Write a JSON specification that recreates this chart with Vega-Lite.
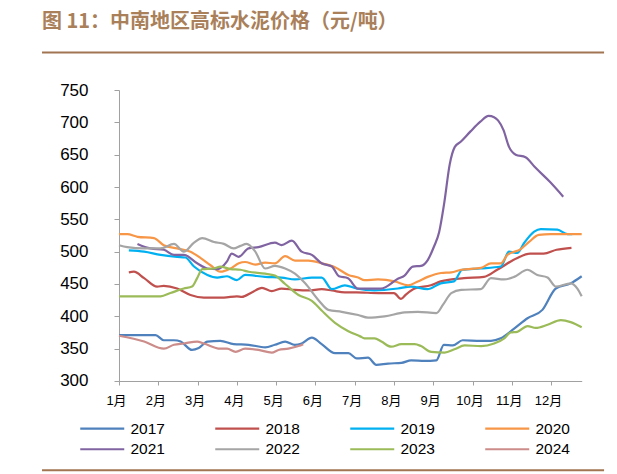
{
  "$schema": "https://vega.github.io/schema/vega-lite/v6.json",
  "width": 462.7,
  "height": 291,
  "autosize": {"type": "none"},
  "padding": {"left": 119, "top": 90, "right": 35, "bottom": 93},
  "background": "white",
  "config": {
    "view": {"stroke": null},
    "font": "Liberation Sans",
    "legend": {"padding": 0}
  },
  "title": {
    "text": "图 11：中南地区高标水泥价格（元/吨）",
    "anchor": "start",
    "frame": "group",
    "dx": -77,
    "offset": 19,
    "font": "Noto Sans CJK SC",
    "fontSize": 20,
    "fontWeight": "bold",
    "color": "#A9805A"
  },
  "data": {"values": [
    {"year":"2017","month":1.0,"price":371},{"year":"2017","month":1.93,"price":371},{"year":"2017","month":2.14,"price":363},{"year":"2017","month":2.4,"price":363},{"year":"2017","month":2.57,"price":361},{"year":"2017","month":2.86,"price":348},{"year":"2017","month":3.03,"price":351},{"year":"2017","month":3.25,"price":361},{"year":"2017","month":3.58,"price":362},{"year":"2017","month":3.92,"price":357},{"year":"2017","month":4.3,"price":356},{"year":"2017","month":4.72,"price":352},{"year":"2017","month":4.97,"price":356},{"year":"2017","month":5.23,"price":361},{"year":"2017","month":5.48,"price":356},{"year":"2017","month":5.65,"price":358},{"year":"2017","month":5.91,"price":367},{"year":"2017","month":6.16,"price":357},{"year":"2017","month":6.5,"price":343},{"year":"2017","month":6.84,"price":343},{"year":"2017","month":7.05,"price":335},{"year":"2017","month":7.34,"price":336},{"year":"2017","month":7.55,"price":325},{"year":"2017","month":7.85,"price":327},{"year":"2017","month":8.19,"price":328},{"year":"2017","month":8.44,"price":332},{"year":"2017","month":8.78,"price":331},{"year":"2017","month":9.08,"price":332},{"year":"2017","month":9.27,"price":356},{"year":"2017","month":9.5,"price":355},{"year":"2017","month":9.75,"price":363},{"year":"2017","month":10.2,"price":362},{"year":"2017","month":10.47,"price":362},{"year":"2017","month":10.72,"price":366},{"year":"2017","month":11.06,"price":381},{"year":"2017","month":11.4,"price":397},{"year":"2017","month":11.78,"price":410},{"year":"2017","month":12.12,"price":443},{"year":"2017","month":12.5,"price":451},{"year":"2017","month":12.78,"price":462},
    {"year":"2018","month":1.25,"price":468},{"year":"2018","month":1.38,"price":469},{"year":"2018","month":1.64,"price":459},{"year":"2018","month":1.97,"price":446},{"year":"2018","month":2.14,"price":447},{"year":"2018","month":2.48,"price":443},{"year":"2018","month":2.82,"price":433},{"year":"2018","month":3.16,"price":429},{"year":"2018","month":3.67,"price":429},{"year":"2018","month":4.0,"price":431},{"year":"2018","month":4.13,"price":430},{"year":"2018","month":4.38,"price":437},{"year":"2018","month":4.64,"price":444},{"year":"2018","month":4.89,"price":439},{"year":"2018","month":5.14,"price":443},{"year":"2018","month":5.48,"price":441},{"year":"2018","month":5.82,"price":440},{"year":"2018","month":6.16,"price":442},{"year":"2018","month":6.42,"price":440},{"year":"2018","month":6.75,"price":437},{"year":"2018","month":7.05,"price":437},{"year":"2018","month":7.6,"price":436},{"year":"2018","month":8.0,"price":436},{"year":"2018","month":8.18,"price":427},{"year":"2018","month":8.31,"price":434},{"year":"2018","month":8.53,"price":443},{"year":"2018","month":8.94,"price":448},{"year":"2018","month":9.19,"price":454},{"year":"2018","month":9.78,"price":459},{"year":"2018","month":10.29,"price":461},{"year":"2018","month":10.63,"price":472},{"year":"2018","month":11.13,"price":490},{"year":"2018","month":11.47,"price":497},{"year":"2018","month":11.81,"price":497},{"year":"2018","month":12.14,"price":503},{"year":"2018","month":12.52,"price":506},
    {"year":"2019","month":1.25,"price":502},{"year":"2019","month":1.64,"price":500},{"year":"2019","month":2.06,"price":495},{"year":"2019","month":2.48,"price":492},{"year":"2019","month":2.69,"price":491},{"year":"2019","month":2.91,"price":477},{"year":"2019","month":3.25,"price":464},{"year":"2019","month":3.5,"price":460},{"year":"2019","month":3.75,"price":462},{"year":"2019","month":4.0,"price":456},{"year":"2019","month":4.21,"price":464},{"year":"2019","month":4.72,"price":461},{"year":"2019","month":5.14,"price":460},{"year":"2019","month":5.48,"price":457},{"year":"2019","month":5.91,"price":460},{"year":"2019","month":6.16,"price":460},{"year":"2019","month":6.42,"price":442},{"year":"2019","month":6.75,"price":448},{"year":"2019","month":7.05,"price":443},{"year":"2019","month":7.5,"price":440},{"year":"2019","month":8.1,"price":443},{"year":"2019","month":8.43,"price":446},{"year":"2019","month":8.85,"price":442},{"year":"2019","month":9.19,"price":451},{"year":"2019","month":9.53,"price":454},{"year":"2019","month":9.74,"price":472},{"year":"2019","month":10.2,"price":474},{"year":"2019","month":10.72,"price":477},{"year":"2019","month":10.93,"price":500},{"year":"2019","month":11.14,"price":498},{"year":"2019","month":11.31,"price":513},{"year":"2019","month":11.57,"price":531},{"year":"2019","month":11.74,"price":535},{"year":"2019","month":12.16,"price":534},{"year":"2019","month":12.42,"price":527},{"year":"2019","month":12.54,"price":527},
    {"year":"2020","month":1.0,"price":527},{"year":"2020","month":1.21,"price":527},{"year":"2020","month":1.47,"price":523},{"year":"2020","month":1.89,"price":521},{"year":"2020","month":2.14,"price":510},{"year":"2020","month":2.48,"price":505},{"year":"2020","month":2.82,"price":500},{"year":"2020","month":3.08,"price":490},{"year":"2020","month":3.33,"price":479},{"year":"2020","month":3.58,"price":469},{"year":"2020","month":3.84,"price":474},{"year":"2020","month":4.05,"price":482},{"year":"2020","month":4.21,"price":484},{"year":"2020","month":4.47,"price":480},{"year":"2020","month":4.72,"price":483},{"year":"2020","month":4.97,"price":482},{"year":"2020","month":5.23,"price":493},{"year":"2020","month":5.48,"price":486},{"year":"2020","month":5.82,"price":486},{"year":"2020","month":6.16,"price":482},{"year":"2020","month":6.5,"price":476},{"year":"2020","month":6.84,"price":464},{"year":"2020","month":7.09,"price":460},{"year":"2020","month":7.25,"price":456},{"year":"2020","month":7.59,"price":457},{"year":"2020","month":8.02,"price":454},{"year":"2020","month":8.36,"price":448},{"year":"2020","month":8.61,"price":454},{"year":"2020","month":8.86,"price":461},{"year":"2020","month":9.2,"price":467},{"year":"2020","month":9.46,"price":468},{"year":"2020","month":9.71,"price":472},{"year":"2020","month":10.22,"price":475},{"year":"2020","month":10.47,"price":482},{"year":"2020","month":10.72,"price":482},{"year":"2020","month":10.89,"price":495},{"year":"2020","month":11.23,"price":504},{"year":"2020","month":11.44,"price":515},{"year":"2020","month":11.69,"price":526},{"year":"2020","month":11.99,"price":527},{"year":"2020","month":12.78,"price":527},
    {"year":"2021","month":1.47,"price":512},{"year":"2021","month":1.8,"price":505},{"year":"2021","month":2.14,"price":503},{"year":"2021","month":2.4,"price":495},{"year":"2021","month":2.65,"price":495},{"year":"2021","month":2.99,"price":482},{"year":"2021","month":3.25,"price":474},{"year":"2021","month":3.5,"price":473},{"year":"2021","month":3.75,"price":485},{"year":"2021","month":3.87,"price":497},{"year":"2021","month":4.04,"price":492},{"year":"2021","month":4.3,"price":505},{"year":"2021","month":4.55,"price":507},{"year":"2021","month":4.97,"price":514},{"year":"2021","month":5.14,"price":510},{"year":"2021","month":5.4,"price":517},{"year":"2021","month":5.65,"price":500},{"year":"2021","month":5.91,"price":495},{"year":"2021","month":6.16,"price":482},{"year":"2021","month":6.42,"price":477},{"year":"2021","month":6.6,"price":462},{"year":"2021","month":6.83,"price":459},{"year":"2021","month":7.08,"price":443},{"year":"2021","month":7.67,"price":443},{"year":"2021","month":8.1,"price":458},{"year":"2021","month":8.27,"price":463},{"year":"2021","month":8.48,"price":477},{"year":"2021","month":8.69,"price":478},{"year":"2021","month":8.86,"price":487},{"year":"2021","month":9.02,"price":508},{"year":"2021","month":9.15,"price":530},{"year":"2021","month":9.28,"price":575},{"year":"2021","month":9.42,"price":635},{"year":"2021","month":9.55,"price":662},{"year":"2021","month":9.7,"price":670},{"year":"2021","month":9.95,"price":686},{"year":"2021","month":10.2,"price":701},{"year":"2021","month":10.41,"price":710},{"year":"2021","month":10.55,"price":708},{"year":"2021","month":10.65,"price":703},{"year":"2021","month":10.79,"price":688},{"year":"2021","month":10.93,"price":662},{"year":"2021","month":11.1,"price":650},{"year":"2021","month":11.35,"price":646},{"year":"2021","month":11.6,"price":630},{"year":"2021","month":11.97,"price":608},{"year":"2021","month":12.31,"price":585},
    {"year":"2022","month":1.0,"price":510},{"year":"2022","month":1.21,"price":507},{"year":"2022","month":1.64,"price":505},{"year":"2022","month":2.06,"price":505},{"year":"2022","month":2.4,"price":512},{"year":"2022","month":2.65,"price":500},{"year":"2022","month":2.91,"price":514},{"year":"2022","month":3.12,"price":521},{"year":"2022","month":3.42,"price":515},{"year":"2022","month":3.67,"price":512},{"year":"2022","month":3.92,"price":505},{"year":"2022","month":4.09,"price":509},{"year":"2022","month":4.25,"price":512},{"year":"2022","month":4.47,"price":500},{"year":"2022","month":4.72,"price":474},{"year":"2022","month":4.97,"price":478},{"year":"2022","month":5.23,"price":474},{"year":"2022","month":5.48,"price":466},{"year":"2022","month":5.74,"price":451},{"year":"2022","month":6.08,"price":425},{"year":"2022","month":6.33,"price":410},{"year":"2022","month":6.67,"price":407},{"year":"2022","month":7.09,"price":402},{"year":"2022","month":7.34,"price":398},{"year":"2022","month":7.76,"price":400},{"year":"2022","month":8.27,"price":406},{"year":"2022","month":8.61,"price":407},{"year":"2022","month":9.08,"price":405},{"year":"2022","month":9.25,"price":418},{"year":"2022","month":9.46,"price":436},{"year":"2022","month":9.71,"price":441},{"year":"2022","month":10.21,"price":442},{"year":"2022","month":10.47,"price":459},{"year":"2022","month":10.8,"price":457},{"year":"2022","month":11.06,"price":461},{"year":"2022","month":11.4,"price":472},{"year":"2022","month":11.65,"price":464},{"year":"2022","month":11.91,"price":460},{"year":"2022","month":12.12,"price":446},{"year":"2022","month":12.5,"price":451},{"year":"2022","month":12.67,"price":443},{"year":"2022","month":12.78,"price":431},
    {"year":"2023","month":1.0,"price":431},{"year":"2023","month":2.06,"price":431},{"year":"2023","month":2.31,"price":436},{"year":"2023","month":2.65,"price":443},{"year":"2023","month":2.86,"price":446},{"year":"2023","month":2.99,"price":459},{"year":"2023","month":3.12,"price":473},{"year":"2023","month":3.42,"price":474},{"year":"2023","month":3.58,"price":477},{"year":"2023","month":3.84,"price":473},{"year":"2023","month":4.09,"price":472},{"year":"2023","month":4.3,"price":469},{"year":"2023","month":4.72,"price":466},{"year":"2023","month":4.97,"price":463},{"year":"2023","month":5.23,"price":450},{"year":"2023","month":5.57,"price":433},{"year":"2023","month":5.91,"price":424},{"year":"2023","month":6.16,"price":409},{"year":"2023","month":6.5,"price":390},{"year":"2023","month":6.84,"price":377},{"year":"2023","month":7.14,"price":369},{"year":"2023","month":7.25,"price":366},{"year":"2023","month":7.51,"price":366},{"year":"2023","month":7.68,"price":361},{"year":"2023","month":7.93,"price":353},{"year":"2023","month":8.19,"price":357},{"year":"2023","month":8.53,"price":357},{"year":"2023","month":8.69,"price":354},{"year":"2023","month":8.95,"price":345},{"year":"2023","month":9.29,"price":344},{"year":"2023","month":9.54,"price":349},{"year":"2023","month":9.8,"price":355},{"year":"2023","month":10.22,"price":354},{"year":"2023","month":10.55,"price":358},{"year":"2023","month":10.81,"price":366},{"year":"2023","month":10.97,"price":375},{"year":"2023","month":11.14,"price":376},{"year":"2023","month":11.4,"price":385},{"year":"2023","month":11.61,"price":382},{"year":"2023","month":11.91,"price":387},{"year":"2023","month":12.25,"price":394},{"year":"2023","month":12.5,"price":391},{"year":"2023","month":12.78,"price":383},
    {"year":"2024","month":1.0,"price":370},{"year":"2024","month":1.64,"price":361},{"year":"2024","month":2.14,"price":350},{"year":"2024","month":2.4,"price":356},{"year":"2024","month":2.65,"price":358},{"year":"2024","month":2.99,"price":361},{"year":"2024","month":3.16,"price":358},{"year":"2024","month":3.58,"price":350},{"year":"2024","month":3.75,"price":350},{"year":"2024","month":3.97,"price":345},{"year":"2024","month":4.21,"price":350},{"year":"2024","month":4.55,"price":348},{"year":"2024","month":4.89,"price":344},{"year":"2024","month":5.06,"price":348},{"year":"2024","month":5.31,"price":350},{"year":"2024","month":5.57,"price":354},{"year":"2024","month":5.69,"price":357}
  ]},
  "layer": [
    {
      "mark": {"type": "line", "interpolate": "monotone"},
      "encoding": {
        "x": {
          "field": "month", "type": "quantitative",
          "scale": {"domain": [1, 12.78], "nice": false, "zero": false},
          "axis": {
            "title": null, "values": [1,2,3,4,5,6,7,8,9,10,11,12],
            "labelExpr": "datum.value + '月'",
            "grid": false, "domainColor": "#A0A0A0", "tickColor": "#A0A0A0",
            "tickSize": 4, "labelFont": "Liberation Sans, Noto Sans CJK SC",
            "labelFontSize": 13, "labelColor": "#000000", "labelPadding": 10,
            "labelOffset": -3, "labelFlush": false, "labelOverlap": false
          }
        },
        "y": {
          "field": "price", "type": "quantitative",
          "scale": {"domain": [300, 750], "nice": false, "zero": false},
          "axis": {
            "title": null, "values": [300,350,400,450,500,550,600,650,700,750],
            "grid": false, "domainColor": "#A0A0A0", "tickColor": "#A0A0A0",
            "tickSize": 5, "labelFont": "Liberation Sans", "labelFontSize": 17,
            "labelColor": "#000000", "labelPadding": 26, "labelFlush": false, "labelOverlap": false
          }
        },
        "color": {
          "field": "year", "type": "nominal",
          "scale": {
            "domain": ["2017","2018","2019","2020","2021","2022","2023","2024"],
            "range": ["#4F81BD","#C0504D","#00B0F0","#F79646","#8064A2","#A5A5A5","#9BBB59","#CC8C8A"]
          },
          "legend": {
            "title": null, "orient": "none", "legendX": -24.5, "legendY": 330.5,
            "direction": "horizontal", "columns": 4, "columnPadding": 45, "rowPadding": 4,
            "symbolType": "M-4,0H4", "symbolSize": 121,
            "symbolStrokeWidth": {"expr": "datum && datum.value === '2024' ? 5.5 : 2.2"},
            "labelOffset": 20.5, "labelFont": "Liberation Sans", "labelFontSize": 15.5,
            "labelColor": "#000000"
          }
        },
        "strokeWidth": {
          "field": "year", "type": "nominal",
          "scale": {
            "domain": ["2017","2018","2019","2020","2021","2022","2023","2024"],
            "range": [2.2,2.2,2.2,2.2,2.2,2.2,2.2,5.5]
          },
          "legend": null
        }
      }
    },
    {
      "data": {"values": [{}]},
      "mark": {"type": "rule", "color": "#A27552", "strokeWidth": 2},
      "encoding": {
        "x": {
          "datum": -0.96, "type": "quantitative",
          "scale": {"domain": [1, 12.78], "nice": false, "zero": false},
          "axis": {
            "title": null, "values": [1,2,3,4,5,6,7,8,9,10,11,12],
            "labelExpr": "datum.value + '月'",
            "grid": false, "domainColor": "#A0A0A0", "tickColor": "#A0A0A0",
            "tickSize": 4, "labelFont": "Liberation Sans, Noto Sans CJK SC",
            "labelFontSize": 13, "labelColor": "#000000", "labelPadding": 10,
            "labelOffset": -3, "labelFlush": false, "labelOverlap": false
          }
        },
        "x2": {"datum": 13.35},
        "y": {
          "datum": 808, "type": "quantitative",
          "scale": {"domain": [300, 750], "nice": false, "zero": false},
          "axis": {
            "title": null, "values": [300,350,400,450,500,550,600,650,700,750],
            "grid": false, "domainColor": "#A0A0A0", "tickColor": "#A0A0A0",
            "tickSize": 5, "labelFont": "Liberation Sans", "labelFontSize": 17,
            "labelColor": "#000000", "labelPadding": 26, "labelFlush": false, "labelOverlap": false
          }
        }
      }
    },
    {
      "data": {"values": [{}]},
      "mark": {"type": "rule", "color": "#A27552", "strokeWidth": 2},
      "encoding": {
        "x": {
          "datum": -0.96, "type": "quantitative",
          "scale": {"domain": [1, 12.78], "nice": false, "zero": false},
          "axis": {
            "title": null, "values": [1,2,3,4,5,6,7,8,9,10,11,12],
            "labelExpr": "datum.value + '月'",
            "grid": false, "domainColor": "#A0A0A0", "tickColor": "#A0A0A0",
            "tickSize": 4, "labelFont": "Liberation Sans, Noto Sans CJK SC",
            "labelFontSize": 13, "labelColor": "#000000", "labelPadding": 10,
            "labelOffset": -3, "labelFlush": false, "labelOverlap": false
          }
        },
        "x2": {"datum": 13.35},
        "y": {
          "datum": 162, "type": "quantitative",
          "scale": {"domain": [300, 750], "nice": false, "zero": false},
          "axis": {
            "title": null, "values": [300,350,400,450,500,550,600,650,700,750],
            "grid": false, "domainColor": "#A0A0A0", "tickColor": "#A0A0A0",
            "tickSize": 5, "labelFont": "Liberation Sans", "labelFontSize": 17,
            "labelColor": "#000000", "labelPadding": 26, "labelFlush": false, "labelOverlap": false
          }
        }
      }
    }
  ]
}
